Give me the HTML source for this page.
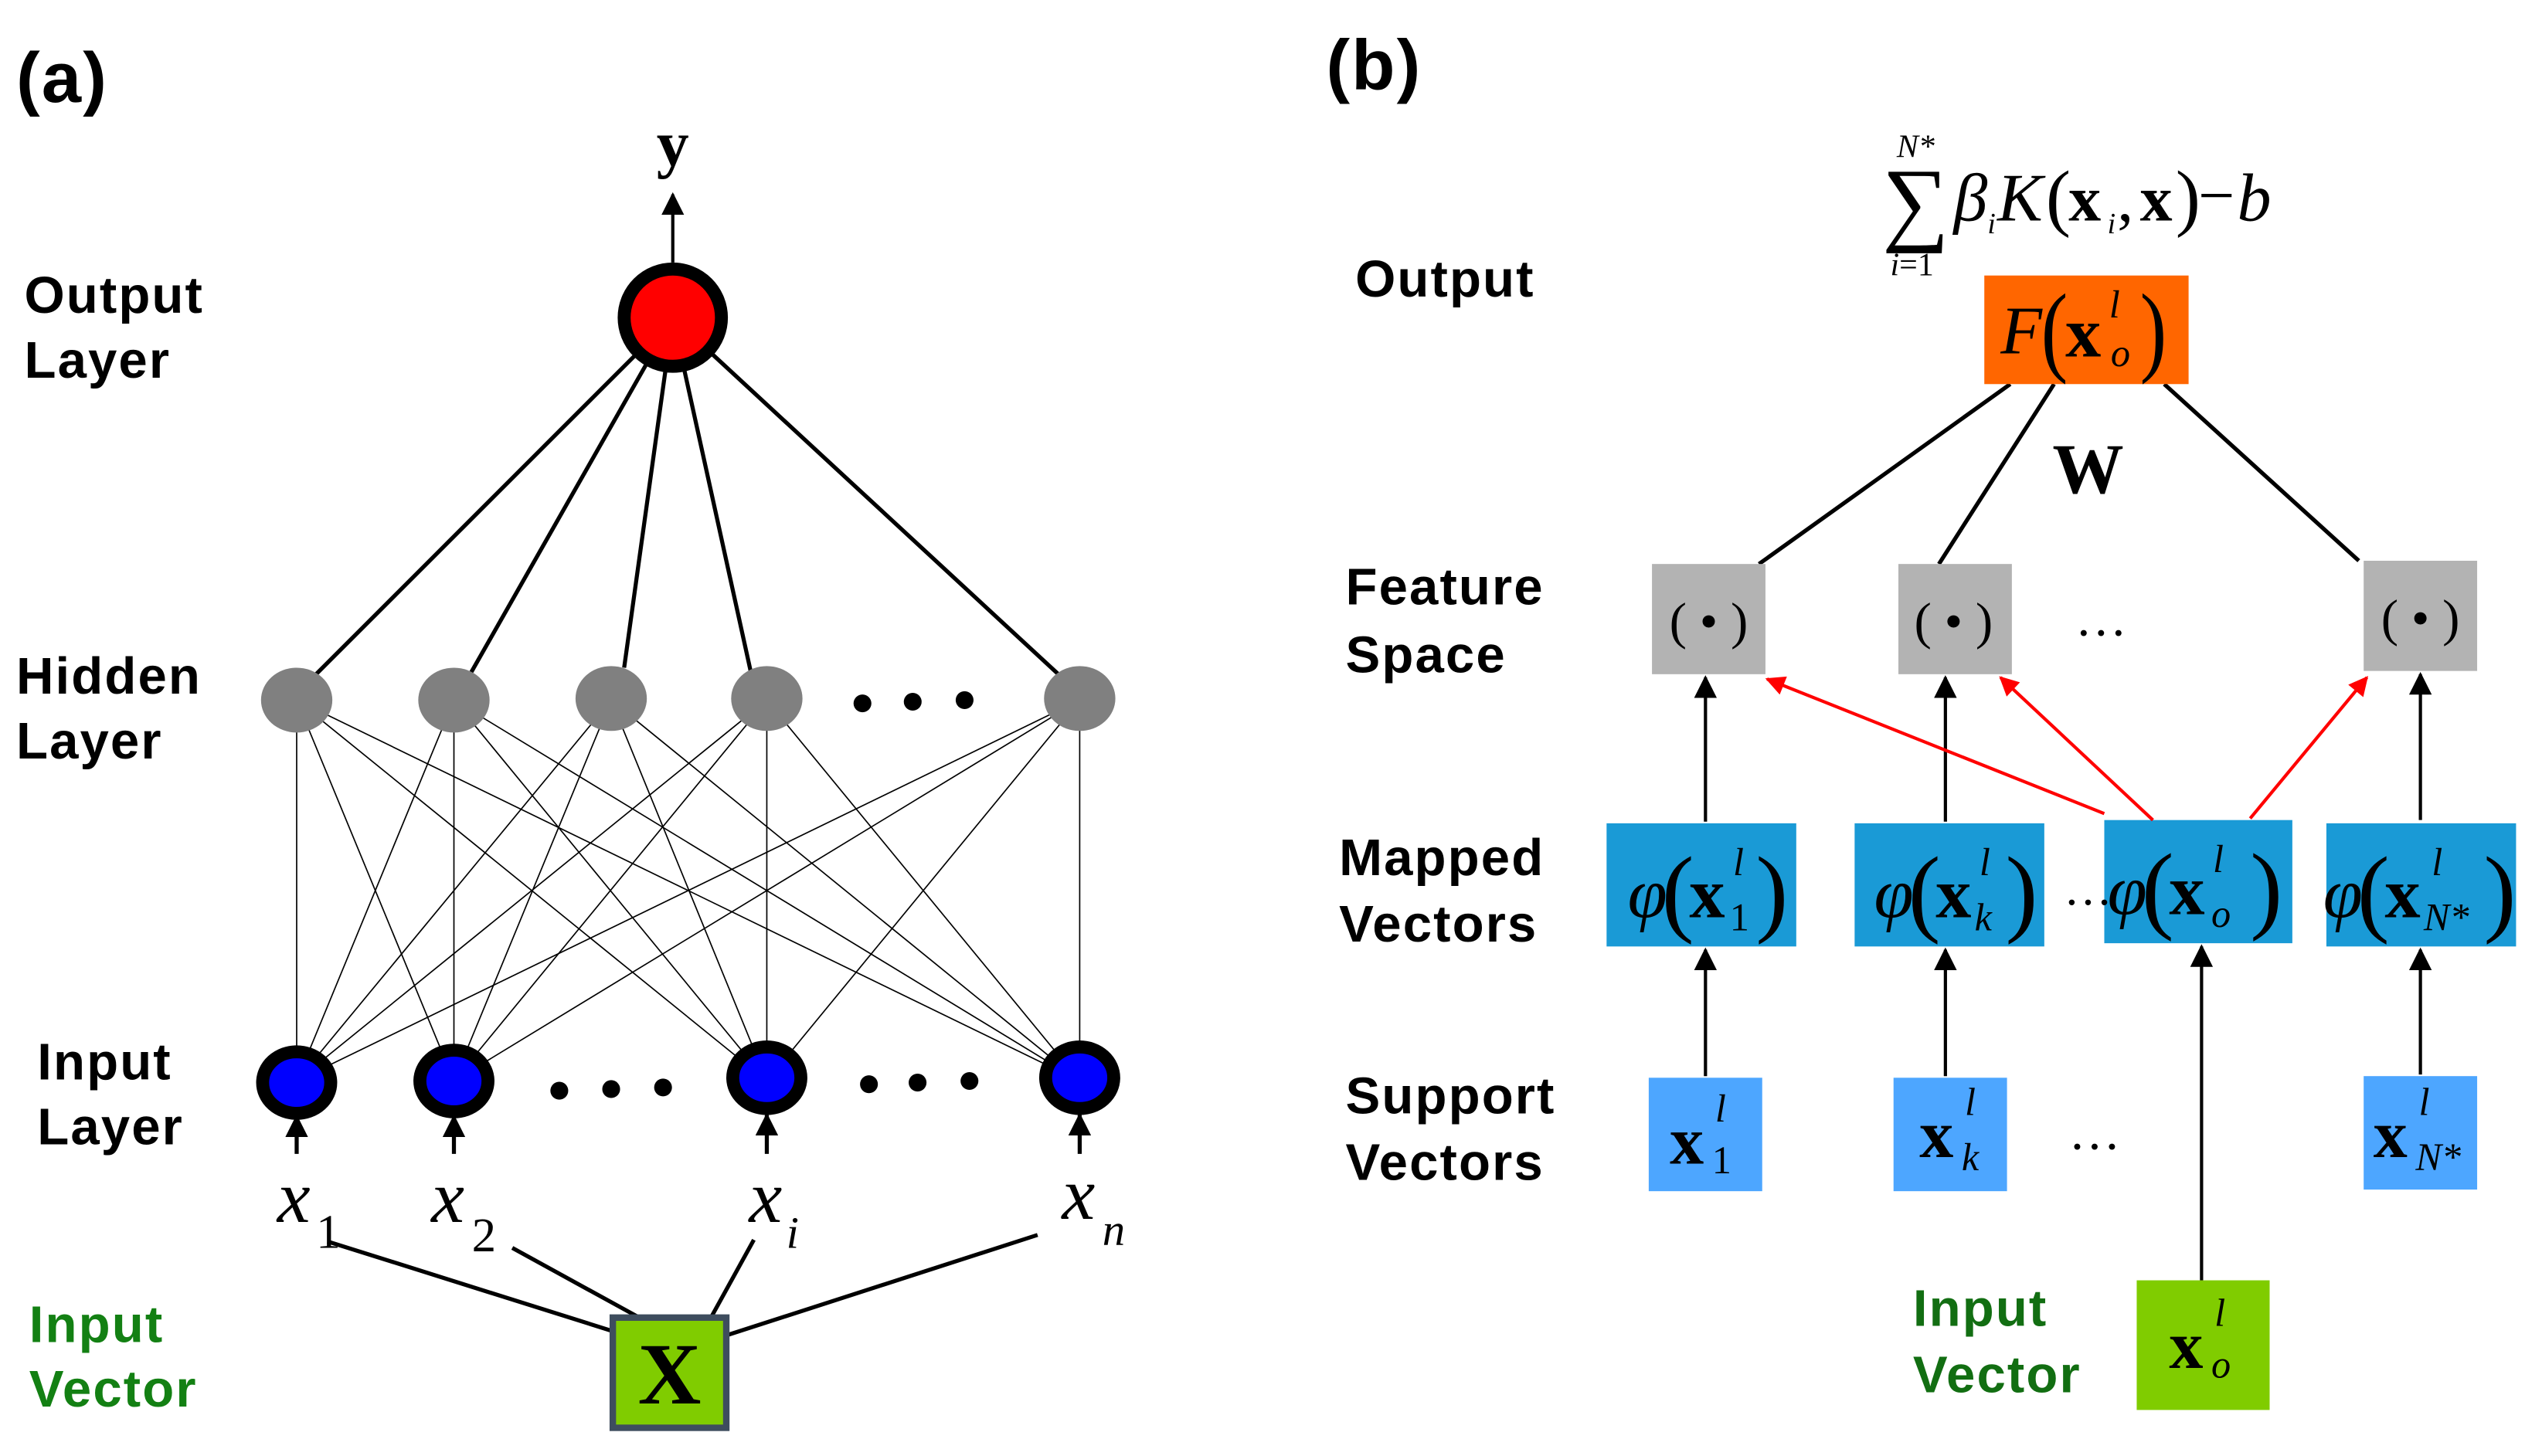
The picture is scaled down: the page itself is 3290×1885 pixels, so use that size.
<!DOCTYPE html>
<html><head><meta charset="utf-8"><style>
html,body{margin:0;padding:0;background:#fff;}
svg{display:block;}
.lb{font-family:"Liberation Sans",sans-serif;font-weight:bold;font-size:32px;letter-spacing:1px;}
.m{font-family:"Liberation Serif",serif;}
</style></head><body>
<svg width="3290" height="1885" viewBox="0 0 1568 898.4" preserveAspectRatio="none" xmlns="http://www.w3.org/2000/svg">
<defs>
<marker id="ab2" viewBox="0 0 10 10" markerWidth="14" markerHeight="14" refX="9" refY="5" orient="auto" markerUnits="userSpaceOnUse"><path d="M0,0 L10,5 L0,10 z" fill="#000"/></marker>
<marker id="ar" viewBox="0 0 10 10" markerWidth="14" markerHeight="12" refX="9" refY="5" orient="auto" markerUnits="userSpaceOnUse"><path d="M0,0 L10,5 L0,10 z" fill="#f00"/></marker>
</defs>
<text x="10" y="63" class="lb" style="font-size:44px">(a)</text>
<text x="405" y="102" class="m" font-weight="bold" font-size="40">y</text>
<line x1="415" y1="162" x2="415" y2="120" stroke="#000" stroke-width="2" marker-end="url(#ab2)"/>
<g class="lb"><text x="15" y="193">Output</text><text x="15" y="233">Layer</text>
<text x="10" y="428">Hidden</text><text x="10" y="468">Layer</text>
<text x="23" y="666">Input</text><text x="23" y="706">Layer</text>
<text x="18" y="828" fill="#138013">Input</text><text x="18" y="868" fill="#138013">Vector</text></g>
<g stroke="#000" stroke-width="2.5">
<line x1="415" y1="196" x2="193" y2="418"/><line x1="415" y1="196" x2="290" y2="416"/><line x1="415" y1="196" x2="385" y2="412"/><line x1="415" y1="196" x2="463" y2="414"/><line x1="415" y1="196" x2="655" y2="418"/>
</g>
<g stroke="#000" stroke-width="0.8">
<line x1="183" y1="432" x2="183" y2="667"/><line x1="183" y1="432" x2="280" y2="667"/><line x1="183" y1="432" x2="473" y2="667"/><line x1="183" y1="432" x2="666" y2="667"/>
<line x1="280" y1="432" x2="183" y2="667"/><line x1="280" y1="432" x2="280" y2="667"/><line x1="280" y1="432" x2="473" y2="667"/><line x1="280" y1="432" x2="666" y2="667"/>
<line x1="377" y1="432" x2="183" y2="667"/><line x1="377" y1="432" x2="280" y2="667"/><line x1="377" y1="432" x2="473" y2="667"/><line x1="377" y1="432" x2="666" y2="667"/>
<line x1="473" y1="432" x2="183" y2="667"/><line x1="473" y1="432" x2="280" y2="667"/><line x1="473" y1="432" x2="473" y2="667"/><line x1="473" y1="432" x2="666" y2="667"/>
<line x1="666" y1="432" x2="183" y2="667"/><line x1="666" y1="432" x2="280" y2="667"/><line x1="666" y1="432" x2="473" y2="667"/><line x1="666" y1="432" x2="666" y2="667"/>
</g>
<circle cx="415" cy="196" r="30" fill="#f00" stroke="#000" stroke-width="8"/>
<g fill="#808080"><ellipse cx="183" cy="432" rx="22" ry="20"/><ellipse cx="280" cy="432" rx="22" ry="20"/><ellipse cx="377" cy="431" rx="22" ry="20"/><ellipse cx="473" cy="431" rx="22" ry="20"/><ellipse cx="666" cy="431" rx="22" ry="20"/></g>
<g fill="#000"><circle cx="532" cy="434" r="5.5"/><circle cx="563" cy="433" r="5.5"/><circle cx="595" cy="432" r="5.5"/>
<circle cx="345" cy="673" r="5.5"/><circle cx="377" cy="672" r="5.5"/><circle cx="409" cy="671" r="5.5"/>
<circle cx="536" cy="669" r="5.5"/><circle cx="566" cy="668" r="5.5"/><circle cx="598" cy="667" r="5.5"/></g>
<g fill="#0000ff" stroke="#000" stroke-width="8"><ellipse cx="183" cy="668" rx="21" ry="19"/><ellipse cx="280" cy="667" rx="21" ry="19"/><ellipse cx="473" cy="665" rx="21" ry="19"/><ellipse cx="666" cy="665" rx="21" ry="19"/></g>
<g stroke="#000" stroke-width="2.5">
<line x1="183" y1="712" x2="183" y2="689" marker-end="url(#ab2)"/><line x1="280" y1="712" x2="280" y2="689" marker-end="url(#ab2)"/><line x1="473" y1="712" x2="473" y2="688" marker-end="url(#ab2)"/><line x1="666" y1="712" x2="666" y2="688" marker-end="url(#ab2)"/>
</g>
<g class="m" font-style="italic"><text x="171" y="754" font-size="46">x</text><text x="195" y="770" font-size="30" font-style="normal">1</text>
<text x="266" y="754" font-size="46">x</text><text x="291" y="772" font-size="30" font-style="normal">2</text>
<text x="462" y="754" font-size="46">x</text><text x="485" y="770" font-size="28">i</text>
<text x="655" y="752" font-size="46">x</text><text x="680" y="768" font-size="28">n</text></g>
<g stroke="#000" stroke-width="2.5"><line x1="202" y1="766" x2="380" y2="822"/><line x1="316" y1="770" x2="398" y2="815"/><line x1="465" y1="765" x2="438" y2="814"/><line x1="448" y1="824" x2="640" y2="762"/></g>
<rect x="378" y="813" width="70" height="68" fill="#80cc00" stroke="#3e4d5e" stroke-width="4"/>
<text x="413" y="866" class="m" font-weight="bold" font-size="54" text-anchor="middle">X</text>
<text x="818" y="55" class="lb" style="font-size:44px">(b)</text>
<g class="m">
<text x="1161" y="144" font-size="58">∑</text>
<text x="1170" y="97" font-size="20" font-style="italic">N*</text>
<text x="1166" y="170" font-size="20"><tspan font-style="italic">i</tspan>=1</text>
<text x="1205" y="136" font-size="42" font-style="italic">β</text><text x="1226" y="144" font-size="18" font-style="italic">i</text>
<text x="1232" y="136" font-size="42" font-style="italic">K</text>
<text x="1262" y="137" font-size="46">(</text><text x="1276" y="136" font-size="40" font-weight="bold">x</text><text x="1300" y="144" font-size="18" font-style="italic">i</text>
<text x="1306" y="136" font-size="40">,</text><text x="1320" y="136" font-size="40" font-weight="bold">x</text><text x="1342" y="137" font-size="46">)</text><text x="1356" y="134" font-size="40">−</text>
<text x="1380" y="136" font-size="42" font-style="italic">b</text>
</g>
<g class="lb"><text x="836" y="183">Output</text>
<text x="830" y="373">Feature</text><text x="830" y="415">Space</text>
<text x="826" y="540">Mapped</text><text x="826" y="581">Vectors</text>
<text x="830" y="687">Support</text><text x="830" y="728">Vectors</text>
<text x="1180" y="818" fill="#126e12">Input</text><text x="1180" y="859" fill="#126e12">Vector</text></g>
<g stroke="#000" stroke-width="2.5"><line x1="1240" y1="237" x2="1085" y2="348"/><line x1="1267" y1="237" x2="1196" y2="348"/><line x1="1335" y1="237" x2="1455" y2="346"/></g>
<rect x="1224" y="170" width="126" height="67" fill="#ff6600"/>
<g class="m"><text x="1234" y="218" font-size="42" font-style="italic">F</text><text x="1259" y="224" font-size="62" transform="scale(0.8,1)" transform-origin="1259 224">(</text>
<text x="1274" y="220" font-size="44" font-weight="bold">x</text><text x="1301" y="196" font-size="24" font-style="italic">l</text><text x="1302" y="226" font-size="24" font-style="italic">o</text>
<text x="1320" y="224" font-size="62" transform="scale(0.8,1)" transform-origin="1320 224">)</text></g>
<text x="1288" y="304" class="m" font-weight="bold" font-size="44" text-anchor="middle">W</text>
<g fill="#b3b3b3"><rect x="1019" y="348" width="70" height="68"/><rect x="1171" y="348" width="70" height="68"/><rect x="1458" y="346" width="70" height="68"/></g>
<g class="m" font-size="32" text-anchor="middle"><text x="1054" y="394">( • )</text><text x="1205" y="394">( • )</text><text x="1493" y="392">( • )</text>
<text x="1296" y="392">…</text><text x="1292" y="709">…</text></g>
<g fill="#1a9ad6"><rect x="991" y="508" width="117" height="76"/><rect x="1144" y="508" width="117" height="76"/><rect x="1298" y="506" width="116" height="76"/><rect x="1435" y="508" width="117" height="76"/></g>
<text x="1288" y="558" class="m" font-size="30" text-anchor="middle">…</text>
<g class="m">
<text x="1004" y="566" font-size="44" font-style="italic">φ</text><text x="1025" y="570" font-size="60">(</text><text x="1042" y="566" font-size="44" font-weight="bold">x</text><text x="1069" y="540" font-size="24" font-style="italic">l</text><text x="1067" y="574" font-size="24">1</text><text x="1083" y="570" font-size="60">)</text>
<text x="1156" y="566" font-size="44" font-style="italic">φ</text><text x="1177" y="570" font-size="60">(</text><text x="1194" y="566" font-size="44" font-weight="bold">x</text><text x="1221" y="540" font-size="24" font-style="italic">l</text><text x="1218" y="574" font-size="24" font-style="italic">k</text><text x="1237" y="570" font-size="60">)</text>
<text x="1300" y="564" font-size="44" font-style="italic">φ</text><text x="1321" y="568" font-size="60">(</text><text x="1338" y="564" font-size="44" font-weight="bold">x</text><text x="1365" y="538" font-size="24" font-style="italic">l</text><text x="1364" y="572" font-size="24" font-style="italic">o</text><text x="1388" y="568" font-size="60">)</text>
<text x="1433" y="566" font-size="44" font-style="italic">φ</text><text x="1454" y="570" font-size="60">(</text><text x="1471" y="566" font-size="44" font-weight="bold">x</text><text x="1500" y="540" font-size="24" font-style="italic">l</text><text x="1495" y="574" font-size="24" font-style="italic">N*</text><text x="1532" y="570" font-size="60">)</text>
</g>
<g fill="#4da6ff"><rect x="1017" y="665" width="70" height="70"/><rect x="1168" y="665" width="70" height="70"/><rect x="1458" y="664" width="70" height="70"/></g>
<g class="m">
<text x="1030" y="718" font-size="42" font-weight="bold">x</text><text x="1058" y="692" font-size="24" font-style="italic">l</text><text x="1056" y="724" font-size="24">1</text>
<text x="1184" y="714" font-size="42" font-weight="bold">x</text><text x="1212" y="688" font-size="24" font-style="italic">l</text><text x="1210" y="722" font-size="24" font-style="italic">k</text>
<text x="1464" y="714" font-size="42" font-weight="bold">x</text><text x="1492" y="688" font-size="24" font-style="italic">l</text><text x="1490" y="722" font-size="24" font-style="italic">N*</text>
</g>
<rect x="1318" y="790" width="82" height="80" fill="#80cc00"/>
<g class="m"><text x="1338" y="844" font-size="42" font-weight="bold">x</text><text x="1366" y="818" font-size="24" font-style="italic">l</text><text x="1364" y="850" font-size="24" font-style="italic">o</text></g>
<g stroke="#000" stroke-width="2">
<line x1="1052" y1="507" x2="1052" y2="418" marker-end="url(#ab2)"/><line x1="1200" y1="507" x2="1200" y2="418" marker-end="url(#ab2)"/><line x1="1493" y1="506" x2="1493" y2="416" marker-end="url(#ab2)"/>
<line x1="1052" y1="664" x2="1052" y2="586" marker-end="url(#ab2)"/><line x1="1200" y1="664" x2="1200" y2="586" marker-end="url(#ab2)"/><line x1="1493" y1="663" x2="1493" y2="586" marker-end="url(#ab2)"/>
<line x1="1358" y1="790" x2="1358" y2="584" marker-end="url(#ab2)"/>
</g>
<g stroke="#f00" stroke-width="2">
<line x1="1298" y1="502" x2="1090" y2="419" marker-end="url(#ar)"/><line x1="1328" y1="506" x2="1234" y2="418" marker-end="url(#ar)"/><line x1="1388" y1="505" x2="1460" y2="418" marker-end="url(#ar)"/>
</g>
</svg>
</body></html>
